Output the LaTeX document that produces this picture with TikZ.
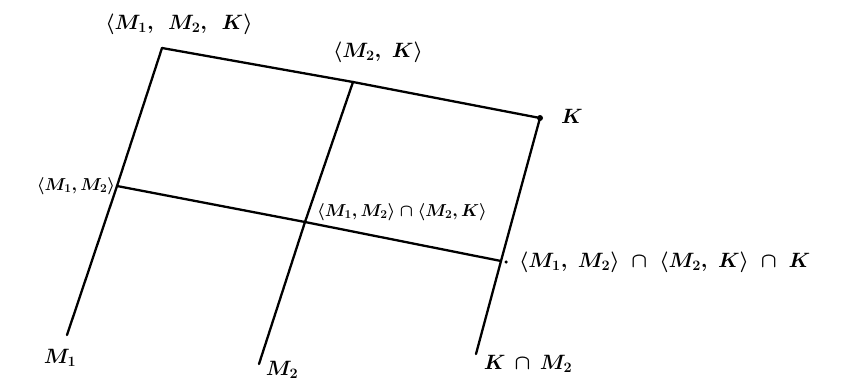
\documentclass[tikz,border=0pt]{standalone}
\usepackage{amsmath}
\begin{document}
\begin{tikzpicture}[x=1pt,y=-1pt,
  edge/.style={line width=2.3pt,line cap=round},
  lbl/.style={font=\fontsize{22}{26}\selectfont\boldmath,inner sep=0pt},
  dotpt/.style={circle,fill=black,inner sep=0pt,minimum size=6pt}]
\useasboundingbox (0,0) rectangle (841,383);
% lattice points
\coordinate (A) at (162,48);     % <M1,M2,K>
\coordinate (B) at (353,82);     % <M2,K>
\coordinate (C) at (540,118);    % K
\coordinate (D) at (117,186);    % <M1,M2>
\coordinate (E) at (305,222);    % <M1,M2> n <M2,K>
\coordinate (F) at (501,261);    % ... n K
\coordinate (G) at (67,335);     % M1
\coordinate (H) at (259,364);    % M2
\coordinate (I) at (476,354);    % K n M2
\node[dotpt] (Cd) at (C) {};
\node[dotpt,minimum size=3.5pt] (Fd) at (506,262) {};
% edges
\draw[edge] (A) -- (B) -- (C);
\draw[edge] (D) -- (E) -- (F);
\draw[edge] (A) -- (D) -- (G);
\draw[edge] (B) -- (E) -- (H);
\draw[edge] (C) -- (F) -- (I);
% labels
\node[lbl] (lA) at (179,24) {$\langle M_1,\;\, M_2,\;\, K\rangle$};
\node[lbl] (lB) at (378,52) {$\langle M_2,\; K\rangle$};
\node[lbl] (lC) at (572,116) {$K$};
\node[lbl,font=\fontsize{18}{22}\selectfont\boldmath] (lD) at (76,186) {$\langle M_1, M_2\rangle$};
\node[lbl,font=\fontsize{18}{22}\selectfont\boldmath] (lE) at (402,212) {$\langle M_1, M_2\rangle\cap\langle M_2, K\rangle$};
\node[lbl,font=\fontsize{21}{25}\selectfont\boldmath,anchor=west] (lF) at (519,262) {$\langle M_1,\; M_2\rangle \;\cap\; \langle M_2,\; K\rangle \;\cap\; K$};
\node[lbl] (lG) at (60,358) {$M_1$};
\node[lbl] (lH) at (282,370) {$M_2$};
\node[lbl] (lI) at (528,364) {$K\,\cap\, M_2$};
\end{tikzpicture}
\end{document}
